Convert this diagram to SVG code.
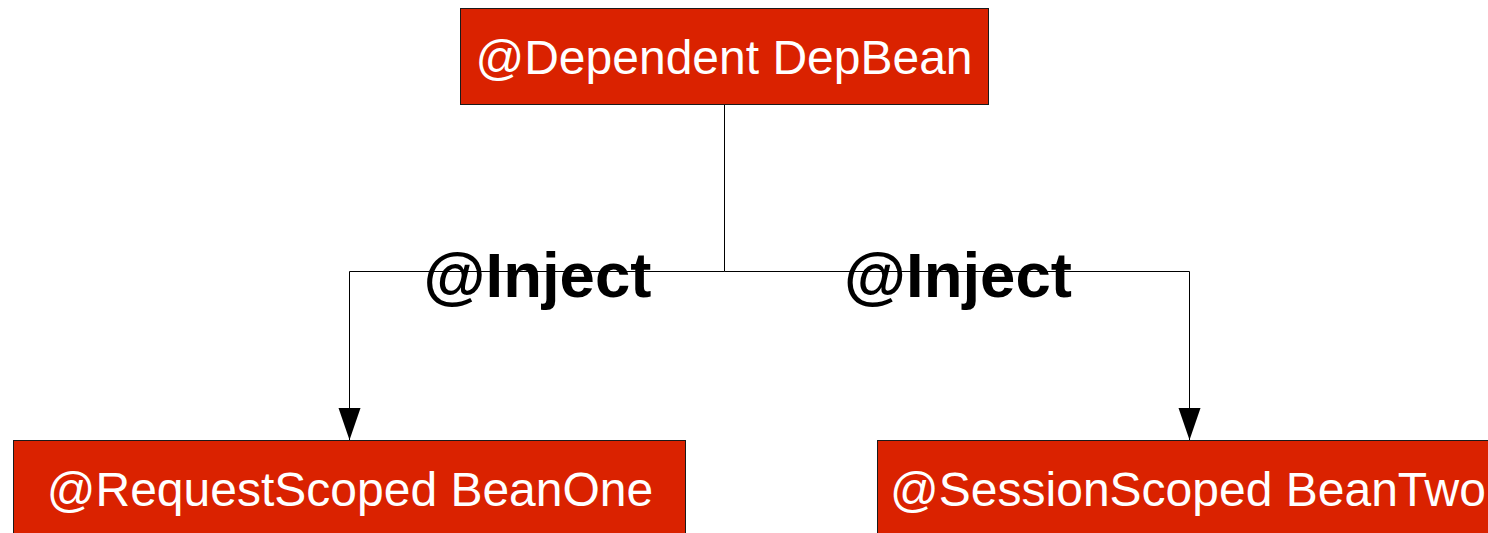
<svg xmlns="http://www.w3.org/2000/svg" width="1488" height="533" viewBox="0 0 1488 533">
<style>
.box{fill:#da2200;stroke:#1a1a1a;stroke-width:1}
.bt{font-family:"Liberation Sans",Arial,sans-serif;font-size:48px;fill:#ffffff;text-anchor:middle}
.lbl{font-family:"Liberation Sans",Arial,sans-serif;font-size:63.5px;font-weight:bold;fill:#000000;text-anchor:middle}
.ln{fill:none;stroke:#000000;stroke-width:1}
</style>
<defs>
<marker id="arr" markerUnits="userSpaceOnUse" markerWidth="34" markerHeight="24" refX="32" refY="12" orient="auto" viewBox="0 0 34 24">
<path d="M0,1 L32,12 L0,23 Z" fill="#000000"/>
</marker>
</defs>
<rect width="1488" height="533" fill="#ffffff"/>
<g id="connectors">
<polyline class="ln" points="724.5,104 724.5,271.5 349.5,271.5 349.5,440" marker-end="url(#arr)"/>
<polyline class="ln" points="724.5,271.5 1189.5,271.5 1189.5,440" marker-end="url(#arr)"/>
<text class="lbl" x="537.5" y="297">@Inject</text>
<text class="lbl" x="958" y="297">@Inject</text>
</g>
<g id="depbean">
<rect class="box" x="460.5" y="8.5" width="528" height="96"/>
<text class="bt" x="724" y="73.5">@Dependent DepBean</text>
</g>
<g id="beanone">
<rect class="box" x="13.5" y="440.5" width="672" height="100"/>
<text class="bt" x="350" y="505.5">@RequestScoped BeanOne</text>
</g>
<g id="beantwo">
<rect class="box" x="877.5" y="440.5" width="630" height="100"/>
<text class="bt" x="1188" y="505.5">@SessionScoped BeanTwo</text>
</g>
</svg>
